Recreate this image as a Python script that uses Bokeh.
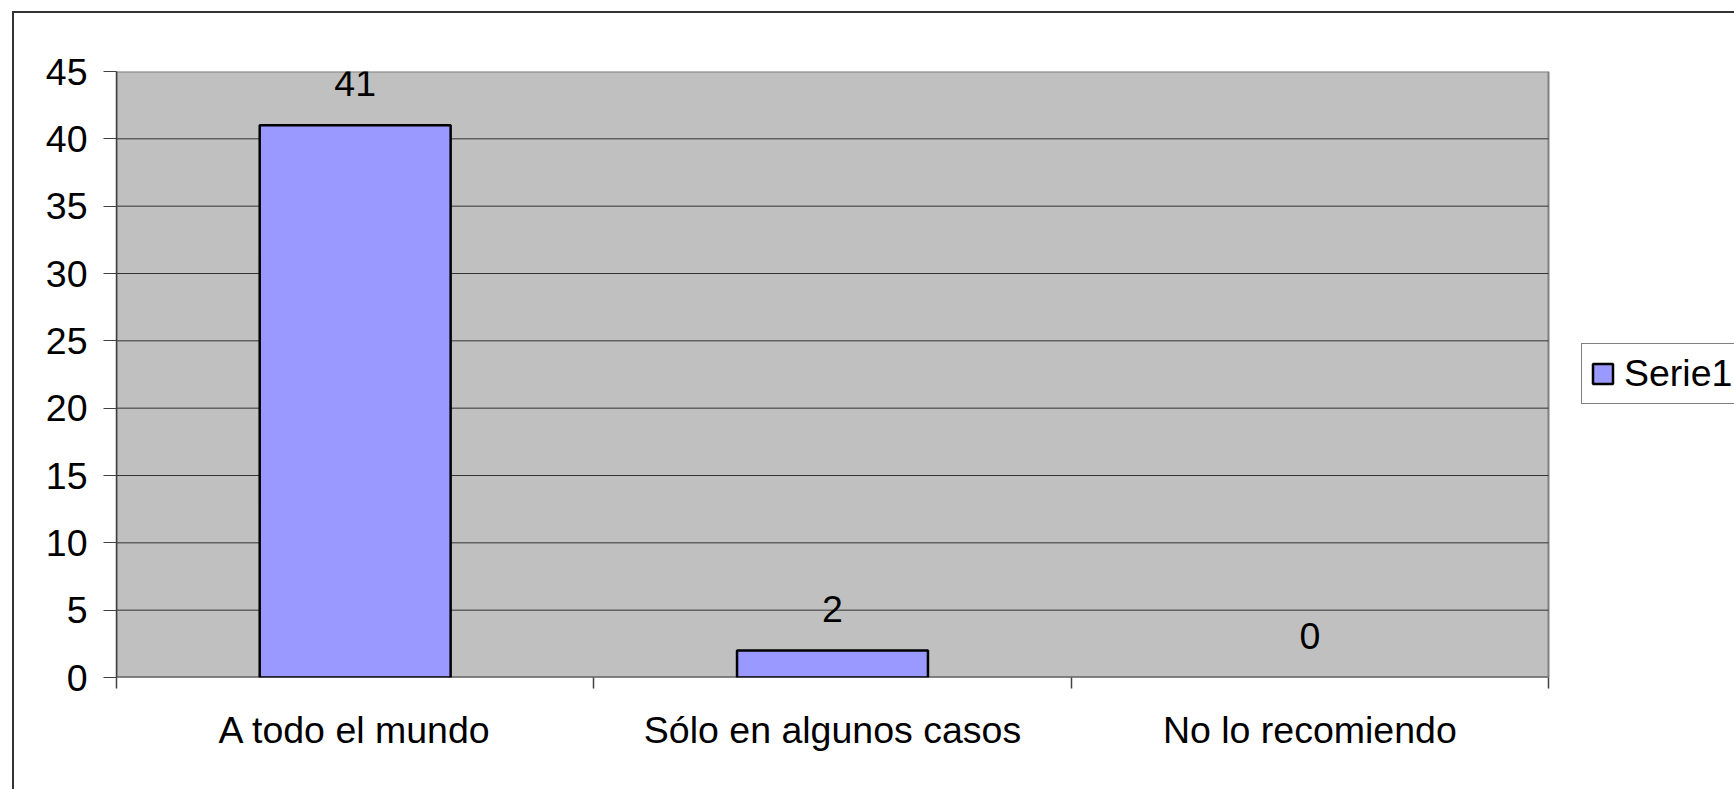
from bokeh.plotting import figure
from bokeh.models import (ColumnDataSource, FixedTicker, Range1d, LabelSet,
                          Legend, LegendItem, InlineStyleSheet)
from bokeh.embed import file_html
from bokeh.resources import INLINE
from bokeh.core.properties import value

# ---- data ----
categories = ["A todo el mundo", "Sólo en algunos casos", "No lo recomiendo"]
values = [41, 2, 0]
series_name = "Serie1"
y_ticks = [0, 5, 10, 15, 20, 25, 30, 35, 40, 45]

FONT = "Liberation Sans"
FS = "37.5px"

W, H = 1734, 789
LEFT, TOP, BOTTOM = 116, 71, 112
PLOT_RIGHT = 1548          # right edge of the grey plot area (px)
n = len(categories)
cat_px = (PLOT_RIGHT - LEFT) / n
x_end = -0.5 + (W - LEFT) / cat_px   # frame extends under the legend

xs = list(range(n))
src = ColumnDataSource(dict(
    x=xs,
    top=values,
    label=[str(v) for v in values],
    lalpha=[1.0 if v > 0 else 0.0 for v in values],
))

p = figure(width=W, height=H, output_backend="svg", toolbar_location=None,
           x_range=Range1d(-0.5, x_end),
           y_range=Range1d(y_ticks[0], y_ticks[-1]),
           min_border_left=LEFT, min_border_right=0,
           min_border_top=TOP, min_border_bottom=BOTTOM)

p.background_fill_color = "white"
p.border_fill_color = "white"
p.outline_line_color = None
p.stylesheets = [InlineStyleSheet(css=(
    ":host{position:relative;}"
    ":host::after{content:'';position:absolute;left:12px;top:11px;right:0;bottom:0;"
    "border-left:2px solid #333333;border-top:2px solid #333333;"
    "pointer-events:none;z-index:100;}"
))]

# grey plot area
p.quad(left=-0.5, right=n - 0.5, bottom=y_ticks[0], top=y_ticks[-1],
       fill_color="#C0C0C0", line_color="#808080", line_width=2)

# horizontal grid lines (top one is the plot-area border)
p.xgrid.visible = False
p.ygrid.visible = False
gy = y_ticks[1:-1]
p.segment(x0=[-0.5] * len(gy), x1=[n - 0.5] * len(gy), y0=gy, y1=gy,
          line_color="#333333", line_width=1)
# baseline
p.segment(x0=[-0.5], x1=[n - 0.5], y0=[y_ticks[0]], y1=[y_ticks[0]],
          line_color="#555555", line_width=2)

r = p.vbar(x="x", top="top", width=0.4, source=src,
           fill_color="#9999FF", line_color="black", line_width=2.5,
           line_alpha="lalpha")

# y axis
ya = p.yaxis[0]
ya.ticker = FixedTicker(ticks=y_ticks)
ya.axis_line_color = "#404040"
ya.axis_line_width = 1.5
ya.major_tick_line_color = "#404040"
ya.major_tick_out = 13
ya.major_tick_in = 0
ya.minor_tick_line_color = None
ya.major_label_standoff = 16
ya.major_label_text_font = FONT
ya.major_label_text_font_size = FS
ya.major_label_text_color = "black"

# x axis: ticks on category boundaries, labels at centers
bounds = [i - 0.5 for i in range(n + 1)]
xa = p.xaxis[0]
xa.ticker = FixedTicker(ticks=xs, minor_ticks=bounds)
xa.major_label_overrides = {i: c for i, c in zip(xs, categories)}
xa.axis_line_color = None
xa.major_tick_line_color = None
xa.major_tick_out = 0
xa.major_tick_in = 0
xa.minor_tick_line_color = "#404040"
xa.minor_tick_line_width = 1.5
xa.minor_tick_out = 11
xa.minor_tick_in = 0
xa.major_label_standoff = 20
xa.major_label_text_font = FONT
xa.major_label_text_font_size = FS
xa.major_label_text_color = "black"

# data labels
labels = LabelSet(x="x", y="top", text="label", source=src, y_offset=29,
                  text_align="center", text_baseline="alphabetic",
                  text_font=value(FONT), text_font_size=value(FS),
                  text_color="black")
p.add_layout(labels)

# legend
legend = Legend(items=[LegendItem(label=series_name, renderers=[r], index=0)],
                location=(1581 - LEFT, 273))
legend.border_line_color = "black"
legend.border_line_width = 1
legend.background_fill_color = "white"
legend.background_fill_alpha = 1
legend.padding = 8
legend.margin = 0
legend.glyph_width = 25
legend.glyph_height = 25
legend.label_standoff = 9
legend.label_text_font = FONT
legend.label_text_font_size = FS
legend.label_text_color = "black"
p.add_layout(legend)

open("out.html", "w").write(file_html(p, INLINE))
